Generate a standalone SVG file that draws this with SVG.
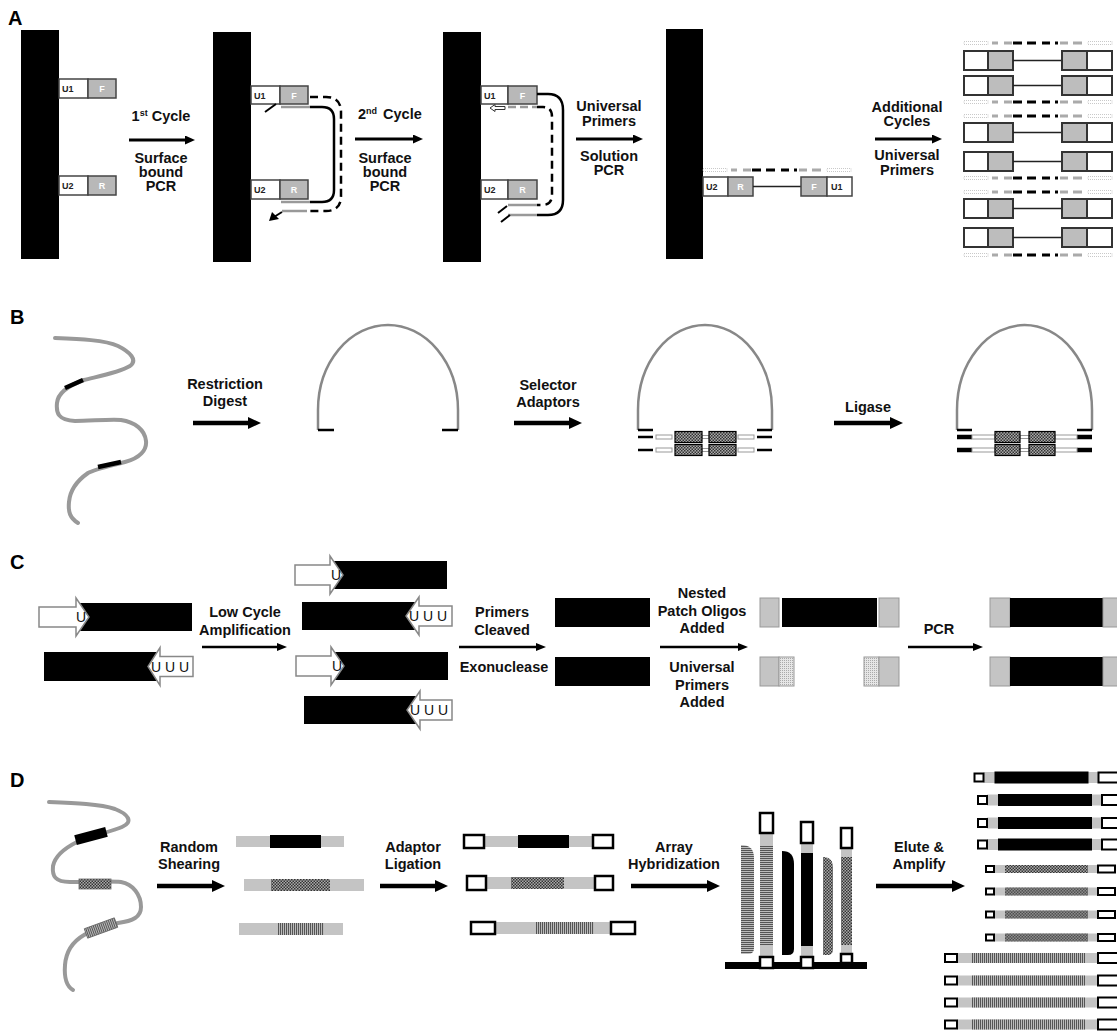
<svg xmlns="http://www.w3.org/2000/svg" width="1117" height="1032" viewBox="0 0 1117 1032">
<defs>
<style>
.lb{font-family:"Liberation Sans",Arial,sans-serif;font-weight:bold;font-size:14.5px;text-anchor:middle;fill:#111}
.pl{font-family:"Liberation Sans",Arial,sans-serif;font-weight:bold;font-size:20px;fill:#000}
.sm{font-family:"Liberation Sans",Arial,sans-serif;font-weight:bold;font-size:9px;fill:#222}
.smw{font-family:"Liberation Sans",Arial,sans-serif;font-weight:bold;font-size:9px;fill:#fff;text-anchor:middle}
.u{font-family:"Liberation Sans",Arial,sans-serif;font-size:14px;fill:#111}
.wb{fill:#fff;stroke:#444;stroke-width:1.5}
.gb{fill:#b8b8b8;stroke:#444;stroke-width:1.5}
.dna{fill:none;stroke:#999;stroke-width:4;stroke-linecap:round;stroke-linejoin:round}
.arch{fill:none;stroke:#888;stroke-width:2.5}
.tk{stroke:#000;stroke-width:2.5;fill:none}
.tk4{stroke:#000;stroke-width:4.5;fill:none}
.gl{stroke:#999;stroke-width:2.5;fill:none}
.sol{stroke:#000;stroke-width:2.5;fill:none}
.dsh{stroke:#000;stroke-width:2.5;fill:none;stroke-dasharray:8 5}
.wr{fill:#fff;stroke:#999;stroke-width:1}
.ck{fill:url(#chk);stroke:#000;stroke-width:1.2}
.wa{fill:#fff;stroke:#888;stroke-width:1.5}
.lg{fill:#c4c4c4}
.lgp{fill:#c4c4c4;stroke:#999;stroke-width:1}
.ad{fill:#fff;stroke:#000;stroke-width:2.5}
.ad2{fill:#fff;stroke:#000;stroke-width:2}
.aA{stroke:#000;stroke-width:3;marker-end:url(#mA)}
.aB{stroke:#000;stroke-width:4.5;marker-end:url(#mB)}
.aC{stroke:#000;stroke-width:2.5;marker-end:url(#mC)}
</style>
<marker id="mA" markerUnits="userSpaceOnUse" markerWidth="10" markerHeight="9" viewBox="0 0 10 9" refX="1" refY="4.5" orient="auto"><path d="M0,0L10,4.5L0,9z" fill="#000"/></marker>
<marker id="mB" markerUnits="userSpaceOnUse" markerWidth="13" markerHeight="12" viewBox="0 0 13 12" refX="1" refY="6" orient="auto"><path d="M0,0L13,6L0,12z" fill="#000"/></marker>
<marker id="mC" markerUnits="userSpaceOnUse" markerWidth="10" markerHeight="8" viewBox="0 0 10 8" refX="1" refY="4" orient="auto"><path d="M0,0L10,4L0,8z" fill="#000"/></marker>
<pattern id="chk" width="3" height="3" patternUnits="userSpaceOnUse"><rect width="3" height="3" fill="#aaa"/><rect width="1.5" height="1.5" fill="#333"/><rect x="1.5" y="1.5" width="1.5" height="1.5" fill="#333"/></pattern>
<pattern id="vs" width="2" height="4" patternUnits="userSpaceOnUse"><rect width="2" height="4" fill="#bbb"/><rect width="1" height="4" fill="#555"/></pattern>
<pattern id="hs" width="4" height="2" patternUnits="userSpaceOnUse"><rect width="4" height="2" fill="#bbb"/><rect width="4" height="1" fill="#555"/></pattern>
<pattern id="dt" width="2" height="2" patternUnits="userSpaceOnUse"><rect width="2" height="2" fill="#e6e6e6"/><rect width="1" height="1" fill="#aaa"/></pattern>
<g id="dl">
<rect x="0" y="-1.5" width="24" height="3" fill="none" stroke="#bbb" stroke-width="0.8" stroke-dasharray="1 1"/>
<path d="M28,0H34M40,0H48M96,0H104M109,0H118" stroke="#aaa" stroke-width="3"/>
<path d="M49,0H58M63,0H72M78,0H86M91,0H94" stroke="#000" stroke-width="3"/>
<rect x="124" y="-1.5" width="24" height="3" fill="none" stroke="#bbb" stroke-width="0.8" stroke-dasharray="1 1"/>
</g>
<g id="srow">
<rect x="0" y="0" width="24" height="19" fill="#fff" stroke="#333" stroke-width="2"/>
<rect x="24" y="0" width="25" height="19" fill="#bdbdbd" stroke="#333" stroke-width="2"/>
<path d="M49,9.5H98" stroke="#222" stroke-width="1.5"/>
<rect x="98" y="0" width="25" height="19" fill="#bdbdbd" stroke="#333" stroke-width="2"/>
<rect x="123" y="0" width="25" height="19" fill="#fff" stroke="#333" stroke-width="2"/>
</g>
<g id="rk">
<rect x="987" y="-5.5" width="115" height="11" class="lg"/>
<rect x="978" y="-4" width="9" height="8" class="ad2"/>
<rect x="998" y="-6" width="94" height="12" fill="#000"/>
<rect x="1102" y="-5" width="25" height="10" class="ad2"/>
</g>
<g id="rc">
<rect x="994" y="-4" width="104" height="8" class="lg"/>
<rect x="986" y="-3" width="8" height="6" class="ad2"/>
<rect x="1005" y="-4" width="83" height="8" fill="url(#chk)"/>
<rect x="1098" y="-3.5" width="17" height="7" class="ad2"/>
</g>
<g id="rs">
<rect x="957" y="-5" width="141" height="10" class="lg"/>
<rect x="945" y="-4" width="12" height="8" class="ad2"/>
<rect x="972" y="-5" width="113" height="10" fill="url(#vs)"/>
<rect x="1098" y="-5" width="29" height="10" class="ad2"/>
</g>
</defs>
<rect width="1117" height="1032" fill="#fff"/>

<!-- Panel letters -->
<g id="panel-labels">
<text class="pl" x="8" y="25">A</text>
<text class="pl" x="10" y="324">B</text>
<text class="pl" x="10" y="569">C</text>
<text class="pl" x="10" y="787">D</text>
</g>

<!-- ===== Panel A ===== -->
<g id="A1">
<rect x="21" y="30" width="38" height="229" fill="#000"/>
<rect x="59" y="79" width="29" height="19" class="wb"/><rect x="88" y="79" width="28" height="19" class="gb"/>
<text class="sm" x="62" y="92">U1</text><text class="smw" x="102" y="92">F</text>
<rect x="59" y="176" width="29" height="19" class="wb"/><rect x="88" y="176" width="28" height="19" class="gb"/>
<text class="sm" x="62" y="189">U2</text><text class="smw" x="102" y="189">R</text>
</g>
<g id="A2">
<rect x="213" y="32" width="38" height="230" fill="#000"/>
<rect x="251" y="86" width="29" height="18" class="wb"/><rect x="280" y="86" width="28" height="18" class="gb"/>
<text class="sm" x="254" y="98.5">U1</text><text class="smw" x="294" y="98.5">F</text>
<rect x="251" y="180" width="29" height="19" class="wb"/><rect x="280" y="180" width="28" height="19" class="gb"/>
<text class="sm" x="254" y="193">U2</text><text class="smw" x="294" y="193">R</text>
<path class="gl" d="M281,107H310"/>
<path class="sol" d="M310,107H322Q334,107 334,119V190Q334,202 322,202H310"/>
<path class="gl" d="M281,202H310"/>
<path class="dsh" d="M310,97H326Q341,97 341,112V196Q341,211 326,211H308"/>
<path class="gl" d="M282,211H307"/>
<path d="M265,112L276,104" stroke="#000" stroke-width="2"/>
<path d="M282,212L274,217" stroke="#000" stroke-width="2"/>
<path d="M269,221L272,212L279,219z" fill="#000"/>
</g>
<g id="A3">
<rect x="443" y="32" width="38" height="230" fill="#000"/>
<rect x="481" y="86" width="27" height="18" class="wb"/><rect x="508" y="86" width="29" height="18" class="gb"/>
<text class="sm" x="484" y="98.5">U1</text><text class="smw" x="522.5" y="98.5">F</text>
<rect x="481" y="180" width="27" height="19" class="wb"/><rect x="508" y="180" width="29" height="19" class="gb"/>
<text class="sm" x="484" y="193">U2</text><text class="smw" x="522.5" y="193">R</text>
<path class="sol" d="M537,94H548Q563,94 563,110V200Q563,215 548,215H537"/>
<path class="gl" d="M508,215H537"/>
<path class="gl" d="M508,107H537" stroke-dasharray="8 4"/>
<path class="dsh" d="M537,107H543Q552,107 552,117V195Q552,205 542,205H537"/>
<path class="gl" d="M508,205H537"/>
<path d="M498,213L507,206M501,222L510,215" stroke="#000" stroke-width="2"/>
<path d="M490,108L495,104.5V106.5H505V109.5H495V111.5Z" fill="#fff" stroke="#333" stroke-width="1"/>
</g>
<g id="A4">
<rect x="666" y="29" width="37" height="230" fill="#000"/>
<use href="#dl" transform="translate(703,170)"/>
<rect x="703" y="177" width="25" height="19" class="wb"/><rect x="728" y="177" width="25" height="19" class="gb"/>
<text class="sm" x="706" y="190">U2</text><text class="smw" x="740.5" y="190">R</text>
<path d="M753,186.5H801" stroke="#222" stroke-width="1.5"/>
<rect x="801" y="177" width="26" height="19" class="gb"/><rect x="827" y="177" width="25" height="19" class="wb"/>
<text class="smw" x="814" y="190">F</text><text class="sm" x="831" y="190">U1</text>
</g>
<g id="A5">
<use href="#dl" transform="translate(964,43)"/>
<use href="#srow" x="964" y="51"/>
<use href="#srow" x="964" y="76"/>
<use href="#dl" transform="translate(964,102)"/>
<use href="#dl" transform="translate(964,116)"/>
<use href="#srow" x="964" y="123"/>
<use href="#srow" x="964" y="152"/>
<use href="#dl" transform="translate(964,178)"/>
<use href="#dl" transform="translate(964,192)"/>
<use href="#srow" x="964" y="199"/>
<use href="#srow" x="964" y="228"/>
<use href="#dl" transform="translate(964,255)"/>
</g>

<!-- ===== Panel B ===== -->
<g id="B1">
<path class="dna" d="M55,338C80,339 105,340 118,346C130,352 138,360 130,366C118,373 95,377 84,380C70,385 58,392 57,403C56,413 58,420 75,421C90,421 110,419 121,420C135,422 145,430 146,441C147,450 140,458 125,462C110,466 95,469 88,473C78,480 70,490 69,502C68,512 70,518 78,523"/>
<path d="M65,388L83,380M98,467L121,462" stroke="#000" stroke-width="4.5"/>
</g>
<g id="B2">
<path class="arch" d="M318,430V410A70,85 0 0 1 458,410V430"/>
<path class="tk" d="M318,430H334M442,430H458"/>
</g>
<g id="B3">
<path class="arch" d="M638,430V410A67,85 0 0 1 772,410V430"/>
<path class="tk" d="M638,430H653M757,430H772M638,437H653M757,437H772M638,450H653M757,450H772"/>
<rect x="656" y="435" width="16" height="4" class="wr"/><rect x="738" y="435" width="16" height="4" class="wr"/>
<rect x="702" y="435.5" width="7" height="3" class="wr"/>
<rect x="675" y="431.5" width="27" height="11" class="ck"/><rect x="709" y="431.5" width="27" height="11" class="ck"/>
<rect x="656" y="448" width="16" height="4" class="wr"/><rect x="738" y="448" width="16" height="4" class="wr"/>
<rect x="702" y="448.5" width="7" height="3" class="wr"/>
<rect x="675" y="444.5" width="27" height="11" class="ck"/><rect x="709" y="444.5" width="27" height="11" class="ck"/>
</g>
<g id="B4">
<path class="arch" d="M957,430V410A67.5,85 0 0 1 1092,410V430"/>
<path class="tk" d="M957,430H972M1077,430H1092"/>
<path class="tk4" d="M957,437H972M1077,437H1092M957,450H972M1077,450H1092"/>
<rect x="972" y="435" width="23" height="4" class="wr"/><rect x="1055" y="435" width="22" height="4" class="wr"/>
<rect x="1020" y="435.5" width="9" height="3" class="wr"/>
<rect x="995" y="431.5" width="25" height="11" class="ck"/><rect x="1029" y="431.5" width="26" height="11" class="ck"/>
<rect x="972" y="448" width="23" height="4" class="wr"/><rect x="1055" y="448" width="22" height="4" class="wr"/>
<rect x="1020" y="448.5" width="9" height="3" class="wr"/>
<rect x="995" y="444.5" width="25" height="11" class="ck"/><rect x="1029" y="444.5" width="26" height="11" class="ck"/>
</g>

<!-- ===== Panel C ===== -->
<g id="C1">
<rect x="78" y="603" width="114" height="28" fill="#000"/>
<polygon class="wa" points="39,607 76,607 76,598 89,617 76,636 76,627 39,627"/>
<text class="u" x="76" y="622">U</text>
<rect x="44" y="652" width="116" height="29" fill="#000"/>
<polygon class="wa" points="193,656.5 160,656.5 160,647.5 148,666.5 160,685.5 160,676.5 193,676.5"/>
<text class="u" x="151" y="671.5">U U U</text>
</g>
<g id="C2">
<rect x="332" y="561" width="115" height="28" fill="#000"/>
<polygon class="wa" points="295,565 330,565 330,556 343,575 330,594 330,585 295,585"/>
<text class="u" x="331" y="580">U</text>
<rect x="302" y="602" width="117" height="28" fill="#000"/>
<polygon class="wa" points="452,606 419,606 419,597 406,616 419,635 419,626 452,626"/>
<text class="u" x="409" y="621">U U U</text>
<rect x="333" y="652" width="115" height="28" fill="#000"/>
<polygon class="wa" points="296,656 331,656 331,647 344,666 331,685 331,676 296,676"/>
<text class="u" x="332" y="671">U</text>
<rect x="304" y="696" width="116" height="28" fill="#000"/>
<polygon class="wa" points="452,700 420,700 420,691 407,710 420,729 420,720 452,720"/>
<text class="u" x="410" y="715">U U U</text>
</g>
<g id="C3">
<rect x="555" y="598" width="95" height="29" fill="#000"/>
<rect x="555" y="657" width="95" height="29" fill="#000"/>
</g>
<g id="C4">
<rect x="760" y="598" width="19" height="29" class="lgp"/>
<rect x="782" y="598" width="95" height="29" fill="#000"/>
<rect x="879" y="598" width="20" height="29" class="lgp"/>
<rect x="760" y="657" width="19" height="29" class="lgp"/>
<rect x="779" y="657" width="15" height="29" fill="url(#dt)" stroke="#999" stroke-width="1"/>
<rect x="864" y="657" width="15" height="29" fill="url(#dt)" stroke="#999" stroke-width="1"/>
<rect x="879" y="657" width="20" height="29" class="lgp"/>
</g>
<g id="C5">
<rect x="990" y="598" width="20" height="29" class="lgp"/>
<rect x="1010" y="598" width="93" height="29" fill="#000"/>
<rect x="1103" y="598" width="22" height="29" class="lgp"/>
<rect x="990" y="657" width="20" height="29" class="lgp"/>
<rect x="1010" y="657" width="93" height="29" fill="#000"/>
<rect x="1103" y="657" width="22" height="29" class="lgp"/>
</g>

<!-- ===== Panel D ===== -->
<g id="D1">
<path class="dna" d="M49,802C75,803 100,804 115,809C128,814 134,822 122,827C110,832 90,836 77,842C65,848 55,856 53,866C52,876 55,882 70,882C90,882 110,881 121,882C133,884 141,895 141,907C141,917 133,921 118,923C105,926 92,930 84,935C72,942 66,952 65,965C64,978 66,986 73,990"/>
<rect x="75" y="831" width="32" height="10" fill="#000" transform="rotate(-15 91 836)"/>
<rect x="79" y="879" width="32" height="10" fill="url(#chk)" stroke="#666" stroke-width="0.8"/>
<rect x="85" y="923" width="32" height="10" fill="url(#vs)" stroke="#666" stroke-width="0.8" transform="rotate(-20 101 928)"/>
</g>
<g id="D2">
<rect x="236" y="836" width="108" height="11" class="lg"/>
<rect x="270" y="835" width="51" height="13" fill="#000"/>
<rect x="244" y="879" width="120" height="12" class="lg"/>
<rect x="271" y="879" width="59" height="12" fill="url(#chk)"/>
<rect x="239" y="923" width="104" height="12" class="lg"/>
<rect x="278" y="923" width="46" height="12" fill="url(#vs)"/>
</g>
<g id="D3">
<rect x="484" y="836" width="109" height="11" class="lg"/>
<rect x="518" y="835" width="51" height="13" fill="#000"/>
<rect x="464" y="835" width="20" height="13" class="ad"/>
<rect x="593" y="835" width="20" height="13" class="ad"/>
<rect x="486" y="877" width="109" height="12" class="lg"/>
<rect x="511" y="877" width="53" height="12" fill="url(#chk)"/>
<rect x="467" y="876" width="19" height="14" class="ad"/>
<rect x="595" y="876" width="18" height="14" class="ad"/>
<rect x="495" y="922" width="116" height="12" class="lg"/>
<rect x="536" y="922" width="58" height="12" fill="url(#vs)"/>
<rect x="471" y="922" width="24" height="12" class="ad"/>
<rect x="611" y="922" width="24" height="12" class="ad"/>
</g>
<g id="D4">
<path d="M741,845Q754,845 754,858V948Q754,954 748,954H741Z" fill="url(#hs)"/>
<rect x="760" y="833" width="13" height="129" class="lg"/>
<rect x="760" y="846" width="13" height="99" fill="url(#hs)"/>
<rect x="760" y="813" width="13" height="20" class="ad"/>
<path d="M782,851Q794,851 794,864V949Q794,955 788,955H782Z" fill="#000"/>
<rect x="801" y="843" width="12" height="119" class="lg"/>
<rect x="801" y="853" width="12" height="93" fill="#000"/>
<rect x="801" y="822" width="12" height="21" class="ad"/>
<path d="M823,857Q833,857 833,868V949Q833,955 828,955H823Z" fill="url(#chk)"/>
<rect x="841" y="848" width="11" height="112" class="lg"/>
<rect x="841" y="857" width="11" height="88" fill="url(#chk)"/>
<rect x="841" y="828" width="11" height="20" class="ad"/>
<rect x="725" y="962" width="142" height="7" fill="#000"/>
<rect x="760" y="957" width="13" height="11" class="ad"/>
<rect x="801" y="957" width="12" height="11" class="ad"/>
<rect x="841" y="954" width="11" height="9" class="ad"/>
</g>
<g id="D5">
<use href="#rk" x="-3.5" y="777.5"/>
<use href="#rk" y="800"/>
<use href="#rk" y="823"/>
<use href="#rk" y="844.5"/>
<use href="#rc" y="869"/>
<use href="#rc" y="891.5"/>
<use href="#rc" y="914.5"/>
<use href="#rc" y="937.5"/>
<use href="#rs" y="958"/>
<use href="#rs" y="980.5"/>
<use href="#rs" y="1002.5"/>
<use href="#rs" y="1024.5"/>
</g>

<!-- ===== Connectors ===== -->
<g id="connectors">
<line class="aA" x1="129" y1="140" x2="186" y2="140"/>
<line class="aA" x1="355" y1="139" x2="414" y2="139"/>
<line class="aA" x1="576" y1="139" x2="634" y2="139"/>
<line class="aA" x1="875" y1="139" x2="933" y2="139"/>
<line class="aB" x1="193" y1="423" x2="249" y2="423"/>
<line class="aB" x1="514" y1="423" x2="570" y2="423"/>
<line class="aB" x1="834" y1="423" x2="891" y2="423"/>
<line class="aC" x1="202" y1="647" x2="278" y2="647"/>
<line class="aC" x1="459" y1="647" x2="537" y2="647"/>
<line class="aC" x1="660" y1="647" x2="739" y2="647"/>
<line class="aC" x1="908" y1="647" x2="974" y2="647"/>
<line class="aB" x1="157" y1="886" x2="213" y2="886"/>
<line class="aB" x1="380" y1="886" x2="436" y2="886"/>
<line class="aB" x1="631" y1="886" x2="708" y2="886"/>
<line class="aB" x1="876" y1="886" x2="953" y2="886"/>
</g>

<!-- ===== Labels ===== -->
<g id="labels">
<text class="lb" x="161" y="121">1<tspan font-size="9" dy="-5">st</tspan><tspan dy="5"> Cycle</tspan></text>
<text class="lb" x="161" y="163">Surface</text>
<text class="lb" x="161" y="177">bound</text>
<text class="lb" x="161" y="191">PCR</text>
<text class="lb" x="358" y="119" text-anchor="start" style="text-anchor:start">2<tspan font-size="9" dy="-5">nd</tspan><tspan dy="5" dx="6">Cycle</tspan></text>
<text class="lb" x="385" y="163">Surface</text>
<text class="lb" x="385" y="177">bound</text>
<text class="lb" x="385" y="191">PCR</text>
<text class="lb" x="609" y="111">Universal</text>
<text class="lb" x="609" y="126">Primers</text>
<text class="lb" x="609" y="161">Solution</text>
<text class="lb" x="609" y="175">PCR</text>
<text class="lb" x="907" y="112">Additional</text>
<text class="lb" x="907" y="126">Cycles</text>
<text class="lb" x="907" y="160">Universal</text>
<text class="lb" x="907" y="175">Primers</text>
<text class="lb" x="225" y="389">Restriction</text>
<text class="lb" x="225" y="406">Digest</text>
<text class="lb" x="548" y="390">Selector</text>
<text class="lb" x="548" y="407">Adaptors</text>
<text class="lb" x="868" y="412">Ligase</text>
<text class="lb" x="245" y="617">Low Cycle</text>
<text class="lb" x="245" y="635">Amplification</text>
<text class="lb" x="502" y="617">Primers</text>
<text class="lb" x="502" y="635">Cleaved</text>
<text class="lb" x="504" y="672">Exonuclease</text>
<text class="lb" x="702" y="598">Nested</text>
<text class="lb" x="702" y="615.5">Patch Oligos</text>
<text class="lb" x="702" y="633">Added</text>
<text class="lb" x="702" y="672">Universal</text>
<text class="lb" x="702" y="689.5">Primers</text>
<text class="lb" x="702" y="707">Added</text>
<text class="lb" x="939" y="634">PCR</text>
<text class="lb" x="189" y="852">Random</text>
<text class="lb" x="189" y="869">Shearing</text>
<text class="lb" x="413" y="852">Adaptor</text>
<text class="lb" x="413" y="869">Ligation</text>
<text class="lb" x="674" y="852">Array</text>
<text class="lb" x="674" y="869">Hybridization</text>
<text class="lb" x="919" y="852">Elute &amp;</text>
<text class="lb" x="919" y="869">Amplify</text>
</g>
</svg>
